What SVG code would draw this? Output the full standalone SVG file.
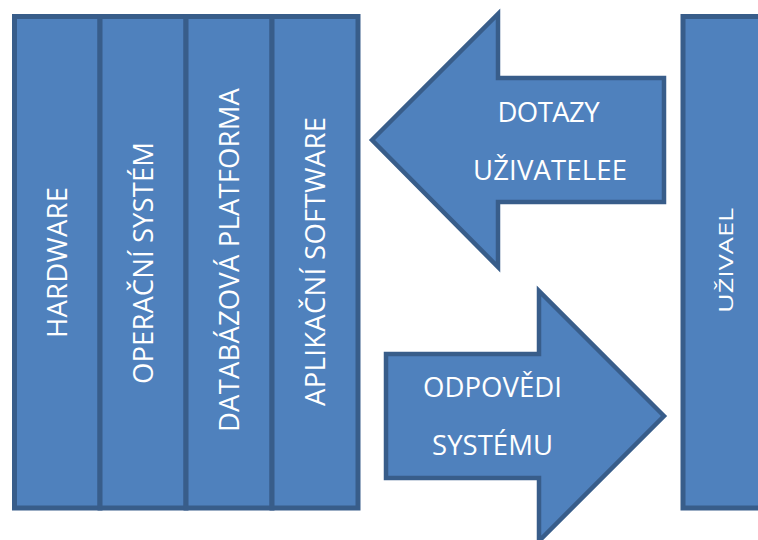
<svg xmlns="http://www.w3.org/2000/svg" width="758" height="540" viewBox="0 0 758 540">
  <style>
    .box { fill: #4F81BD; stroke: #385D8A; stroke-width: 5; stroke-linejoin: miter; }
    .arrow { fill: #4F81BD; stroke: #385D8A; stroke-width: 4.5; stroke-linejoin: miter; }
    .lbl { fill: #FFFFFF; font-family: "Open Sans", "DejaVu Sans", sans-serif; font-size: 27.5px; text-anchor: middle; }
    .lbl-s { fill: #FFFFFF; font-family: "Open Sans", "DejaVu Sans", sans-serif; font-size: 20px; text-anchor: middle; }
  </style>
  <rect width="758" height="540" fill="#FFFFFF"/>

  <g id="hardware">
    <rect class="box" x="14.5" y="16.5" width="85.5" height="491.5"/>
    <text class="lbl" transform="translate(66.5,262.5) rotate(-90)" textLength="151" lengthAdjust="spacing">HARDWARE</text>
  </g>
  <g id="operacni-system">
    <rect class="box" x="100" y="16.5" width="86" height="491.5"/>
    <text class="lbl" transform="translate(152.7,263) rotate(-90)" textLength="242" lengthAdjust="spacing">OPERAČNÍ SYSTÉM</text>
  </g>
  <g id="databazova-platforma">
    <rect class="box" x="186" y="16.5" width="86" height="491.5"/>
    <text class="lbl" transform="translate(239.3,260) rotate(-90)" textLength="344" lengthAdjust="spacing">DATABÁZOVÁ PLATFORMA</text>
  </g>
  <g id="aplikacni-software">
    <rect class="box" x="272" y="16.5" width="86" height="491.5"/>
    <text class="lbl" transform="translate(325,261.5) rotate(-90)" textLength="289" lengthAdjust="spacing">APLIKAČNÍ SOFTWARE</text>
  </g>

  <g id="uzivatel">
    <rect class="box" x="683" y="16.5" width="90" height="491.5"/>
    <text class="lbl-s" transform="translate(733,260.5) rotate(-90)" textLength="105" lengthAdjust="spacingAndGlyphs">UŽIVAEL</text>
  </g>

  <g id="connectors">
    <g id="dotazy-uzivatele">
      <polygon class="arrow" points="372,140 498,14 498,78 664,78 664,202 498,202 498,267"/>
      <text class="lbl" x="548.5" y="121.7" textLength="102" lengthAdjust="spacing">DOTAZY</text>
      <text class="lbl" x="550" y="180" textLength="154" lengthAdjust="spacing">UŽIVATELEE</text>
    </g>
    <g id="odpovedi-systemu">
      <polygon class="arrow" points="664,416 539,291 539,354 386,354 386,478 539,478 539,541"/>
      <text class="lbl" x="492.5" y="397" textLength="139" lengthAdjust="spacing">ODPOVĚDI</text>
      <text class="lbl" x="492.5" y="455" textLength="121" lengthAdjust="spacing">SYSTÉMU</text>
    </g>
  </g>
</svg>
